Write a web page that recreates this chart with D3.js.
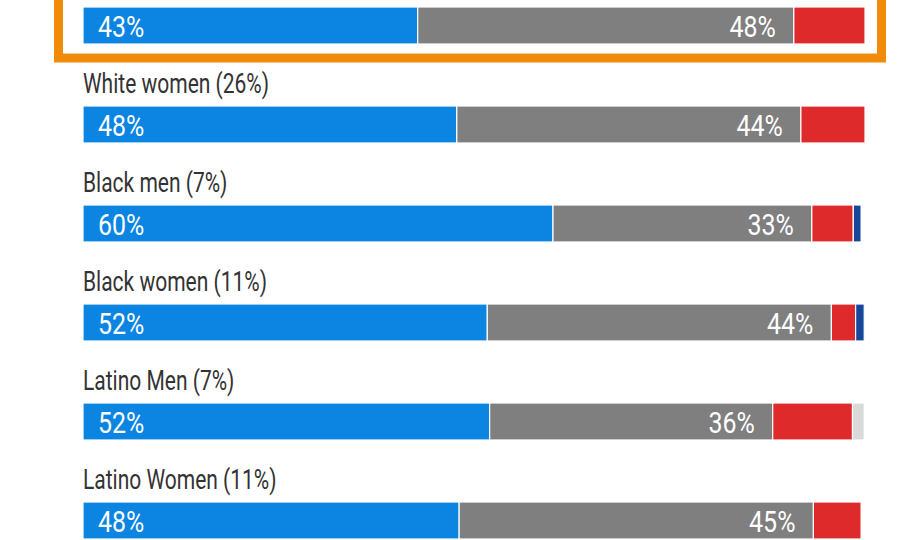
<!DOCTYPE html>
<html>
<head>
<meta charset="utf-8">
<script src="https://cdn.jsdelivr.net/npm/d3@7"></script>
<style>
  html, body { margin: 0; padding: 0; background: #fff; }
  svg { display: block; }
</style>
</head>
<body>
<div id="chart"></div>
<script>
// first row label sits above the visible crop, so it is left blank
const groups = ['', 'White women (26%)', 'Black men (7%)', 'Black women (11%)', 'Latino Men (7%)', 'Latino Women (11%)'];
const blueShare = [42.8, 47.8, 60.1, 51.7, 52.0, 48.1];
const greyShare = [48.1, 44.0, 33.1, 44.0, 36.2, 45.3];
const redShare = [9.1, 8.2, 5.3, 3.1, 10.2, 6.1];
const navyShare = [0, 0, 1.0, 1.1, 0, 0];
const paleShare = [0, 0, 0, 0, 1.5, 0];
const highlighted = [0];

const W = 900;
const H = 540;
// no condensed face installed, so Roboto gets squeezed horizontally
const FONT = 'Roboto, "Noto Sans", sans-serif';
const LABEL_SQUEEZE = 0.75;
const VALUE_SQUEEZE = 0.86;

const keys = ['blue', 'grey', 'red', 'navy', 'pale'];
const colors = { blue: '#0b85e1', grey: '#7f7f7f', red: '#de2a2a', navy: '#17479a', pale: '#d9d9d9' };

const rows = groups.map((g, i) => ({
  group: g,
  blue: blueShare[i],
  grey: greyShare[i],
  red: redShare[i],
  navy: navyShare[i],
  pale: paleShare[i],
}));

const series = d3.stack().keys(keys)(rows);

const x = d3.scaleLinear().domain([0, 100]).range([83, 865]);
// rows are 99px apart; the band holds label on top, bar at the bottom
const y = d3.scaleBand().domain(d3.range(rows.length)).range([-30, 564]);
const BAR_H = 37;
const barTop = (i) => y(i) + y.bandwidth() - BAR_H - 25;

const svg = d3.select('#chart').append('svg').attr('width', W).attr('height', H);

// ── orange highlight frame around row 0 ────────────────────────────────────
highlighted.forEach((i) => {
  const top = barTop(i) - 100;
  svg.append('rect')
    .attr('x', 58.5)
    .attr('y', top)
    .attr('width', 823)
    .attr('height', barTop(i) + BAR_H + 14 - top)
    .attr('fill', 'none')
    .attr('stroke', '#f08c0a')
    .attr('stroke-width', 9);
});

// ── stacked segments ───────────────────────────────────────────────────────
svg.append('g')
  .selectAll('g')
  .data(series)
  .join('g')
  .attr('fill', (s) => colors[s.key])
  .selectAll('rect')
  .data((s) => s.map((d, i) => ({ d, i })).filter((o) => o.d[1] - o.d[0] > 0))
  .join('rect')
  .attr('x', (o) => x(o.d[0]))
  .attr('y', (o) => barTop(o.i))
  .attr('width', (o) => x(o.d[1]) - x(o.d[0]))
  .attr('height', BAR_H)
  .attr('stroke', '#fff')
  .attr('stroke-width', 1.2);

// ── group labels above bars ────────────────────────────────────────────────
svg.append('g')
  .selectAll('text')
  .data(rows.map((r, i) => ({ r, i })).filter((o) => o.r.group))
  .join('text')
  .attr('transform', (o) => `translate(83,${barTop(o.i) - 13}) scale(${LABEL_SQUEEZE},1)`)
  .attr('font-family', FONT)
  .attr('font-size', '28px')
  .attr('fill', '#333')
  .text((o) => o.r.group);

// ── value labels inside bars ───────────────────────────────────────────────
const vals = svg.append('g')
  .attr('font-family', FONT)
  .attr('font-size', '29px')
  .attr('fill', '#fff');

rows.forEach((r, i) => {
  const base = barTop(i) + 29.5;
  vals.append('text')
    .attr('transform', `translate(${x(0) + 15},${base}) scale(${VALUE_SQUEEZE},1)`)
    .text(`${Math.round(r.blue)}%`);

  vals.append('text')
    .attr('transform', `translate(${x(r.blue + r.grey) - 18},${base}) scale(${VALUE_SQUEEZE},1)`)
    .attr('text-anchor', 'end')
    .text(`${Math.round(r.grey)}%`);
});
</script>
</body>
</html>
